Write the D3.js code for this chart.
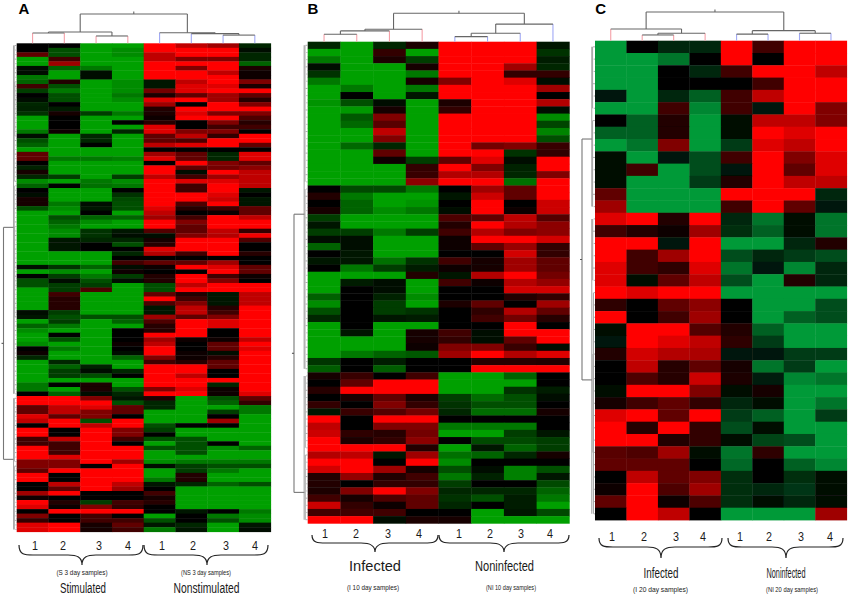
<!DOCTYPE html>
<html>
<head>
<meta charset="utf-8">
<script src="https://cdn.jsdelivr.net/npm/d3@7"></script>
<style>
  html, body { margin: 0; padding: 0; background: #fff; }
  text { font-family: "Liberation Sans", Arial, sans-serif; fill: #1a1a1a; }
</style>
</head>
<body>
<svg id="chart" width="850" height="597">
  <defs><filter id="soft" x="-2%" y="-2%" width="104%" height="104%"><feGaussianBlur stdDeviation="0.45"/></filter></defs>
</svg>
<script>
// values are relative expression, -4 = full green, 0 = black, 4 = full red
const valuesA = [
  [0,0,-4,-4,4,3,2.5,-1],[0,-2,-4,-3.5,4,4,4,-0.3],[1.5,-2,-4,-3.5,3,4,4,-1],[-4,1,-4,-4,3,2,2,-1],
  [-4,2.5,-4,-4,4,4,4,-2.5],[-0.3,-2.5,-3,-4,4,2,4,0.4],[-0.3,-4,-0.3,-4,4,4,3,0.2],[-3,-4,-0.3,-4,4,4,4,0.2],
  [-2.5,0.5,-4,-3.5,-0.6,3,4,2],[1,-2,-4,-3.5,-0.6,3.5,3.5,0.4],[-1.5,-3,-4,-3.5,1.8,3.5,4,4],[-0.1,-2,-4,-3,0.4,1.5,2.5,1.5],
  [-0.3,-2,-4,-3.5,3.5,4,2.5,0.6],[-1,-0.1,-4,-4,2.5,0,4,2],[-0.8,-0.7,-4,-4,0.5,4,4,4],[-1.2,0.3,-1.5,-3,0.4,3.5,2,2],
  [-4,0,-4,-4,0.2,4,4,1.2],[-4,0,-4,0,0.6,0,2,0.6],[-4,0,-4,-4,3.5,0,1,1],[-3,0.2,-4,-1,3.5,2,2,-0.1],
  [-0.3,-4,-1,-4,1.5,3,0.8,4],[-2,-4,-1,-4,1.5,1.2,4,4],[-2.5,-4,0,-4,3,3.5,4,1.5],[-4,-4,-4,-4,0,0,0,0],
  [1.5,-4,-4,-4,2.5,1.5,-1,3.5],[1.5,-3,-3,-3.2,3.5,1.5,-1,3.5],[0,-4,-4,-4,0,4,2,1.5],[-0.8,-4,-4,-4,4,1.5,1.8,2.2],
  [0.3,-4,-4,-4,4,-0.3,4,3],[-1,-1.5,-4,-1.5,3,1,2.5,3],[-3.5,-4,-3,-3.5,4,3.5,3.5,3],[-2.5,0,-2.8,-3,4,1,4,3],
  [-0.1,-4,-4,0,4,1,4,-0.5],[-0.3,-4,-4,-1.2,4,4,3.5,0.1],[0.3,-4,-4,-1.8,4,4,3.2,-0.5],[0.3,-3,-0.3,-2,4,1.2,4,-0.6],
  [-2,-3.5,-0.5,-2,3.5,0.6,1,1.5],[-4,-4,0,-4,3,0.1,0.2,1.5],[-4,-2,-2.5,-2.5,2.5,1,4,3],[-4,-2.5,-3.5,-4,4,2,4,4],
  [-4,-3,-4,-4,4,1.5,4,4],[-4,-3.5,-1.2,-0.5,1.3,1.5,3,0.8],[-4,-3.5,-1.2,-0.3,-0.3,2,2.8,3.8],[-4,-0.5,-1,-1,0.3,4,4,1.2],
  [-4,-0.5,0,-2,0.6,4,4,0],[-4,-0.5,0,0,3.5,4,4,0],[-4,-4,-4,-1,2.8,1,4,0.6],[-4,-4,-4,0.1,0.1,-0.1,-0.1,0.1],
  [-4,-4,-4,1,1.5,1.5,2.5,0.1],[-0.3,-1.2,-2.5,-0.3,0.2,4,3.5,1.5],[-4,-3.5,-4,0.2,0,0,4,1.5],[-0.1,-1.5,-3,-1.5,0.5,4,1,0.2],
  [-2,-0.4,-2,-0.2,0.5,4,2,0.1],[-2,-1.5,-1.5,-4,-2,3,4,4],[-4,-1.5,1.2,-4,-2,4,4,4],[-4,1,-4,-4,1.5,0.5,-0.6,3],
  [-4,0.6,-4,-4,4,1,-0.5,3],[-4,0.6,-4,-4,1.2,2,-0.5,3],[-4,0.6,-4,-4,-0.5,3,0.6,4],[-0.2,-1.5,-4,-4,-0.6,3,1,4],
  [-0.5,-2,-2,-2,2.5,1.5,2,4],[-4,-1.5,-4,-2.5,1.2,4,3.5,4],[-2.5,-3,-4,-4,0.6,4,3.5,4],[-3.5,-4,-4,0,0.6,4,0,4],
  [-4,0.1,-4,0,4,4,0,4],[-4,-2,-4,-0.1,2.5,0.2,0.2,3],[-3.5,-4,-4,0.2,3,-0.1,1.5,4],[0,-3,-4,0,4,0.1,1.5,3.5],
  [0.2,-4,-4,-0.2,4,0.2,-0.2,4],[-1,-4,-4,-2.5,2,0.2,0.6,4],[-4,-1,-4,-4,1,0.6,1.5,4],[-4,-2.5,-0.8,-4,4,4,1.5,4],
  [-4,-1.5,-0.3,-1,4,4,0.1,4],[-4,-1.5,-2,0,4,3,0.1,4],[-4,-4,-4,-4,4,4,4,4],[-3,0,0.4,-4,4,4,-1,4],
  [-3,-4,0.4,-2,2,3.5,0.2,4],[0,-2.5,-0.3,-1,4,4,0.2,3.5],[4,4,2,-0.5,0.5,-4,-2,1.5],[4,4,4,-2,-1,-4,-2.5,0.8],
  [1.5,3,3.5,1.5,-1,-4,-4,-3],[1.5,3,2,1.5,-4,-4,-1.5,-3],[3.5,1.5,2,0,-4,-4,0,-4],[3,4,-2,4,-4,-4,2.5,-4],
  [0,4,3,4,-2,0,0,-4],[4,0,4,2,-1.5,-4,-4,-4],[4,0,4,2,0,-4,-4,-4],[1,3,4,1,-2,-2,-4,-4],
  [1,1,4,0,-4,-2,0,-4],[4,1,4,4,-2,-2,-3.5,-2.5],[4,1,4,4,-4,-2,-4,-4],[4,3.5,4,4,-4,-4,-4,-4],
  [2,2,4,2.5,-3.5,-3,-3,-3],[2,2,0,4,-0.3,-1.5,-2,-2],[1.5,4,4,4,-4,-1.5,-3,-4],[4,0,4,4,-4,0.5,-4,-4],
  [4,0,4,4,-3,0.5,-4,-4],[0,3,4,3,-0.5,-1,-2.5,-2],[0,1.5,4,2.5,0,-4,-4,-4],[2.5,4,0,0,1,-4,-4,-4],
  [0.2,0.1,0,0.1,0.3,-4,-4,-4],[4,0.5,-1.5,1,0.6,-4,-4,-4],[3.5,0.2,2,0.8,0,-4,-4,-4],[0.1,4,4,4,0,-0.5,0,-3],
  [2,0,1,0,-4,0,-3,-3.5],[0.8,0,1,1,-2,0,-2,-3.5],[3.5,4,0.3,1.5,-0.5,-1,-4,-0.5],[3.5,4,0.3,1,-3,-0.6,-4,-0.2]
];

const valuesB = [
  [-1,-4,-1,0.4,4,4,4,-0.5],[-4,-4,0.8,-4,4,4,4,-1.2],[-3,-4,0.4,-1.5,4,4,4,-0.7],[-0.3,-4,-4,0.3,4,4,2.5,-1],
  [-1.2,-4,-4,-3,4,4,0.8,0.8],[-3,-4,-4,0.3,2,4,3.5,-0.3],[-4,-3,-4,-3,4,4,4,2.5],[-4,0,-4,-0.5,4,4,4,0],
  [-3.7,-2,-0.3,-4,0.4,4,4,2.8],[-4,-3.8,0.3,-4,0.8,4,4,-0.2],[-4,-2.2,2,-4,4,4,4,-3.5],[-4,-2.6,1.4,-4,4,4,4,-1.7],
  [-4,-4,3,-4,4,4,4,-3.3],[-4,-4,2,-4,4,4,4,-2],[-4,-2.6,-1,-4,4,1.8,2,0.9],[-4,-4,1.5,-4,4,4,-1.2,0.8],
  [-4,-4,0.2,-1.5,1.5,3.5,-0.4,4],[-4,-4,-4,0.8,4,2,-0.8,4],[-4,-4,-4,0.9,2.8,2.8,-1,2],[-4,-4,-4,2.2,4,4,-2.8,4],
  [0,-1.8,-1.8,-3,-0.1,2.5,1.5,4],[0.5,-3,-4,-4,-0.6,3.2,1.5,4],[0,-2.5,-4,-3.7,0,4,0,3.2],[0.3,-2.5,-3.5,-3,-0.3,4,0.2,3.2],
  [-1.5,-4,-4,-4,1.2,1.5,3,1.3],[-0.5,-4,-4,-4,0.5,4,2.8,2.2],[-1.5,-1.5,-3,-1.5,1,2.8,2,2.2],[-0.3,-0.4,-4,-4,0.2,4,4,3.3],
  [-2.5,-0.4,-4,-4,0.2,1.5,2.4,0.8],[0,-0.6,-4,-4,0,0,3.3,0.8],[-0.6,-0.6,-2.8,-1.2,1,0.3,2.5,1.5],[0,-3,-1.5,-0.7,0.2,0.3,2.5,1.5],
  [-4,-4,-4,0.5,-0.5,2.8,4,1.8],[-4,-0.7,-0.3,-4,1,0.2,2.8,2.3],[-4,0,-0.3,-4,0,0,3.3,3.3],[-2.4,0,-0.8,-3.5,0,0,0.5,0.8],
  [-3.5,0,-1.5,-4,0.4,1.5,0,2.5],[-2,0.1,-1.5,-1.2,-0.1,0.7,2.8,1.5],[-1,0.1,-0.5,-0.7,-0.1,1,1.8,0.6],[-4,0.1,-4,-4,0,0,4,0],
  [-4,-0.5,-4,0.3,1,-0.2,4,4],[-4,-4,-4,0.3,0.8,-0.4,1.5,4],[-4,-4,-4,0.2,2,2,0.9,-0.2],[-4,-3,-2.5,-2.2,2.5,4,2.8,3.5],
  [-1.3,0,-0.7,-0.1,0,0.6,0.6,0.5],[-2.3,0,-2.3,0,0,4,4,4],[0.3,0.9,0.1,1,-4,-4,-2.5,0],[0,1.5,4,4,-4,-4,-4,0],
  [0.6,4,4,4,-4,-4,-1.2,-0.7],[0,0.4,1.5,0.4,-1.5,-2.7,-2,-0.2],[0.8,0.1,2,0.8,-1.2,-2,-2,-0.1],[-0.6,0.9,1.3,1.8,-1,-2.7,-2.7,0.3],
  [4,0,4,4,0,0,0,0],[3,0,2,2,-3,-3,-3,0],[3.2,0.7,0.6,1.8,-4,-4,-1.5,-0.6],[4,0.4,0.8,2.2,0,-1.8,-1.8,-1.5],
  [4,4,4,0.5,-4,-0.6,-2.5,-1.5],[2.8,3,-0.5,2.5,-2.8,-2.5,-1,0.3],[4,4,0,4,-3.5,0,0,0],[3.3,4,2.5,0.3,-2,-0.2,-3.2,-2],
  [0.5,2.3,0.5,1,-3,-0.8,-3.2,-0.6],[0.5,0,0.8,0.8,-1.5,0,0,-1.8],[0.4,2,4,2,-1,-1,-1,-2.5],[1,0.3,1.2,1.5,-1.2,-2,-0.7,-3],
  [3.2,0.8,0.2,1.5,-1,0,-0.7,-4],[1,1,1,0,0,-4,-0.5,-1.8],[4,4,-0.3,0.4,0.3,-4,-4,-4]
];

const valuesC = [
  [-4,0,-1,-1,4,1,4,4],[-4,-4,-3,0,4,0,4,4],[-4,-4,0,-1,1,4,4,3],[-4,-4,0,0,0,1,4,4],
  [-0.5,-4,-1,-2.5,1,3,4,4],[-4,-4,1,-3.5,1,-0.5,4,2],[0,-2.5,0.5,-4,-0.3,3,3,2],[-2.5,-2.5,0.5,-4,-0.3,4,3.5,4],
  [-4,-3,2,-4,-1.5,3.5,3,4],[-0.3,-4,-0.5,-2,1,4,2,3.5],[-0.3,1,-4,-2,-0.5,4,1.5,3.5],[-0.2,-4,-4,-1.5,0.5,4,3,3],
  [1.5,-4,-4,-4,4,4,4,-1],[2.5,-4,-4,-4,1,4,1.5,-0.5],[3.5,4,0.5,4,-1,-3,-0.2,-3],[1,0.5,0.2,2.5,-1.2,-2.5,-0.2,-3],
  [4,4,-0.5,4,-4,-4,-1,0.5],[4,1,2.5,4,-2,-1,-1.5,-2],[3.5,1,0.7,3.5,-3,-0.5,-3.5,-1],[3.5,-0.3,1.5,3,-2,-4,0.5,-1],
  [4,3.5,4,4,-4,-4,-4,-4],[0.7,0,1.5,2.2,0,-4,-4,-2],[4,0,1,2.5,0,-4,-2.5,-2],[-0.3,4,4,1.3,0.5,-2.5,-4,-4],
  [-0.5,4,3.5,3,0.7,-1.5,-4,-4],[0.5,3.3,2.8,2.7,-0.5,-0.5,-1.5,-1.5],[-0.1,3,0.6,1.5,0.3,-3,-1.5,-4],[-0.1,1.2,0.6,3.2,0.4,-0.7,-3.5,-3],
  [-0.2,4,4,2,-0.3,0.3,-4,-4],[0.3,1,1.5,0.8,-1,-0.3,-4,-3],[3.5,4,1.5,4,-1.5,-2.5,-4,-1.5],[4,0.6,4,0.8,-2,-0.3,-4,-4],
  [4,4,0.5,0.8,-0.4,-1.8,-2,-4],[1.4,1.2,2.5,-0.4,-3,0.7,-4,-4],[1.5,1.5,1.5,0,-2.7,0,-2.5,-3.5],[0,3,1.5,2,-1.2,0,-1.2,-0.2],
  [0.2,4,1.2,2.5,-1.2,-1,-1.4,-0.2],[1.5,4,0.2,1.2,-1.2,-0.4,-1,-0.2],[0,4,3,0,-4,-4,-4,2.5]
];

const sampleLabels = [1, 2, 3, 4, 1, 2, 3, 4];

// column trees: [distance, left, right], a number is a column index
const colTreeA = [1, [0.385, [0.35, 0, 1], [0.25, 2, 3]], [0.36, 4, [0.33, 5, [0.28, 6, 7]]]];
const colTreeB = [1, [0.44, [0.38, [0.26, 0, 1], 2], 3], [0.62, [0.30, [0.18, 4, 5], 6], 7]];
const colTreeC = [1, [0.41, 0, [0.26, [0.2, 1, 2], 3]], [0.35, [0.23, 4, 5], [0.26, 6, 7]]];

// row clusters: [first row, last row, distance]
const rowClustersA = [[0, 77, 0.24], [78, 107, 0.24], [0, 30, 0.19], [31, 77, 0.19], [78, 92, 0.18], [93, 107, 0.18], [40, 60, 0.16], [8, 20, 0.15]];
const rowClustersB = [[0, 45, 0.26], [46, 66, 0.26], [0, 19, 0.2], [20, 45, 0.2], [46, 56, 0.18], [57, 66, 0.18]];
const rowClustersC = [[0, 13, 0.25], [14, 38, 0.25], [0, 5, 0.19], [6, 13, 0.19], [14, 19, 0.18], [20, 38, 0.12], [25, 33, 0.16]];

// where the two main row clusters join, in row units
const rowSplitA = [40.2, 91.5];
const rowSplitB = [23.5, 62.2];
const rowSplitC = [7.5, 27.1];

const panels = [
  { letter: 'A', letterX: 24, values: valuesA, tree: colTreeA, clusters: rowClustersA, split: rowSplitA, green: '#00a000',
    left: 16.7, right: 270.7, top: 43.3, bottom: 531.7, rootY: 14, mainX: 3.5,
    numX: [35, 63, 99, 128, 162, 193, 226, 255], numY: 549.5,
    braces: [[19, 143, 82], [144, 268, 207]], braceY: 545, braceDepth: [10, 20],
    names: [['Stimulated', 83, 46, 593], ['Nonstimulated', 206.5, 66, 593]], nameSize: 14,
    notes: [['(S 3 day samples)', 82, 51, 575], ['(NS 3 day samples)', 206, 50, 575]] },
  { letter: 'B', letterX: 313, values: valuesB, tree: colTreeB, clusters: rowClustersB, split: rowSplitB, green: '#00a000',
    left: 307.7, right: 569.3, top: 41.7, bottom: 523.3, rootY: 13.3, mainX: 294,
    numX: [325, 356, 388, 419, 459, 490, 521, 550], numY: 537.5,
    braces: [[312, 438, 375], [439, 569, 504]], braceY: 535, braceDepth: [8, 17],
    names: [['Infected', 375, 52, 571], ['Noninfected', 504.5, 59, 571]], nameSize: 15,
    notes: [['(I 10 day samples)', 373, 52, 590], ['(NI 10 day samples)', 511, 50, 590]] },
  { letter: 'C', letterX: 600.6, values: valuesC, tree: colTreeC, clusters: rowClustersC, split: rowSplitC, green: '#009a38',
    left: 595, right: 846.7, top: 40.7, bottom: 520, rootY: 12, mainX: 582,
    numX: [612, 644, 676, 703, 740, 769, 801, 830], numY: 540.5,
    braces: [[599, 722, 661], [728, 843, 786]], braceY: 538, braceDepth: [9, 20],
    names: [['Infected', 661, 35, 578], ['Noninfected', 786, 39, 578]], nameSize: 14,
    notes: [['(I 20 day samples)', 660.5, 55, 592], ['(NI 20 day samples)', 792, 52, 592]] }
];

const svg = d3.select('#chart');

// curly brace opening upward, with its tip pointing down
const bracePath = (x0, x1, xt, y, d) => {
  const y1 = y + d[0], y2 = y + d[1];
  return `M${x0},${y} C${x0},${y1} ${x0 + 6},${y1} ${x0 + 14},${y1} L${xt - 14},${y1} C${xt - 5},${y1} ${xt},${y1 + 2} ${xt},${y2}`
    + ` C${xt},${y1 + 2} ${xt + 5},${y1} ${xt + 14},${y1} L${x1 - 14},${y1} C${x1 - 6},${y1} ${x1},${y1} ${x1},${y}`;
};

panels.forEach(p => {
  const g = svg.append('g');
  const nRows = p.values.length;
  const x = d3.scaleBand().domain(d3.range(8)).range([p.left, p.right]);
  const y = d3.scaleBand().domain(d3.range(nRows)).range([p.top, p.bottom]);
  const color = d3.scaleLinear().domain([-4, 0, 4]).range([p.green, '#000000', '#ff0000']);
  const treeY = d3.scaleLinear().domain([0, 1]).range([p.top, p.rootY]);
  const rowX = d3.scaleLinear().domain([0, 1]).range([p.left, p.mainX]);
  const rowPos = r => p.top + (r + 0.5) * y.step();

  // heatmap cells
  const cells = g.append('g').attr('filter', 'url(#soft)');
  p.values.forEach((row, r) => {
    cells.selectAll(null)
      .data(row)
      .enter()
      .append('rect')
      .attr('x', (d, c) => x(c))
      .attr('y', y(r))
      .attr('width', x.bandwidth() + 0.4)
      .attr('height', y.bandwidth() + 0.4)
      .attr('fill', d => color(d));
  });

  // column dendrogram
  const seg = (x1, y1, x2, y2, stroke) => g.append('line')
    .attr('x1', x1).attr('y1', y1).attr('x2', x2).attr('y2', y2)
    .attr('stroke', stroke).attr('stroke-width', 1.1);
  const walk = node => {
    if (typeof node === 'number') return { x: x(node) + x.bandwidth() / 2, y: p.top, col: node };
    const a = walk(node[1]), b = walk(node[2]);
    const h = treeY(node[0]);
    [a, b].forEach(k => {
      const stroke = k.col === undefined ? '#666' : (k.col < 4 ? '#f5a0a8' : '#a0a8f5');
      seg(k.x, k.y, k.x, h, stroke);
    });
    seg(a.x, h, b.x, h, '#666');
    return { x: (a.x + b.x) / 2, y: h };
  };
  const root = walk(p.tree);
  seg(root.x, root.y, root.x, root.y - 2.5, '#666');

  // row dendrogram
  g.selectAll(null)
    .data(d3.range(nRows))
    .enter()
    .append('line')
    .attr('x1', rowX(0))
    .attr('x2', (d, i) => rowX(i % 3 === 0 ? 0.16 : 0.1))
    .attr('y1', d => rowPos(d))
    .attr('y2', d => rowPos(d))
    .attr('stroke', '#999')
    .attr('stroke-width', 0.8);
  p.clusters.forEach(c => {
    seg(rowX(c[2]), rowPos(c[0]), rowX(c[2]), rowPos(c[1]), '#aaa');
  });
  seg(rowX(1), rowPos(p.split[0]), rowX(1), rowPos(p.split[1]), '#777');
  seg(rowX(1), rowPos(p.split[0]), rowX(0.24), rowPos(p.split[0]), '#777');
  seg(rowX(1), rowPos(p.split[1]), rowX(0.24), rowPos(p.split[1]), '#777');
  seg(rowX(1), (rowPos(p.split[0]) + rowPos(p.split[1])) / 2, rowX(1.15), (rowPos(p.split[0]) + rowPos(p.split[1])) / 2, '#555');

  // texts and braces
  g.append('text')
    .attr('x', p.letterX).attr('y', 13.5)
    .attr('text-anchor', 'middle')
    .style('font-size', '15px').style('font-weight', 'bold')
    .style('fill', '#000')
    .text(p.letter);

  g.selectAll(null)
    .data(sampleLabels)
    .enter()
    .append('text')
    .attr('x', (d, i) => p.numX[i] - 3)
    .attr('y', p.numY)
    .attr('textLength', 6)
    .attr('lengthAdjust', 'spacingAndGlyphs')
    .style('font-size', '13px')
    .text(d => d);

  p.braces.forEach(b => {
    g.append('path')
      .attr('d', bracePath(b[0], b[1], b[2], p.braceY, p.braceDepth))
      .attr('fill', 'none')
      .attr('stroke', '#222')
      .attr('stroke-width', 1.2);
  });

  p.names.forEach(n => {
    g.append('text')
      .attr('x', n[1] - n[2] / 2).attr('y', n[3])
      .attr('textLength', n[2])
      .attr('lengthAdjust', 'spacingAndGlyphs')
      .style('font-size', p.nameSize + 'px')
      .text(n[0]);
  });

  p.notes.forEach(n => {
    g.append('text')
      .attr('x', n[1] - n[2] / 2).attr('y', n[3])
      .attr('textLength', n[2])
      .attr('lengthAdjust', 'spacingAndGlyphs')
      .style('font-size', '7.5px')
      .text(n[0]);
  });
});
</script>
</body>
</html>
